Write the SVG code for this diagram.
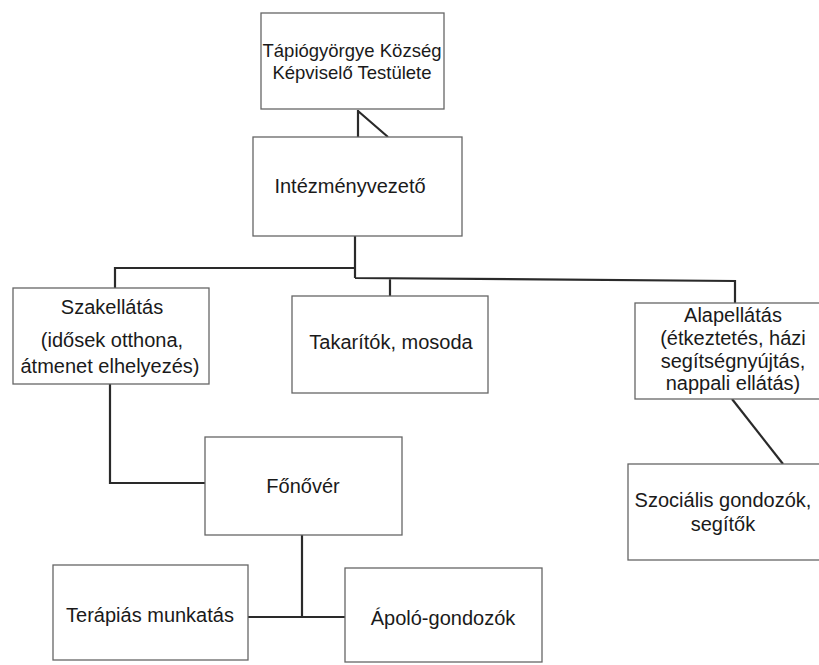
<svg xmlns="http://www.w3.org/2000/svg" width="819" height="665" viewBox="0 0 819 665">
<style>
.box{fill:#fff;stroke:#666;stroke-width:1.3}
.t{font-family:"Liberation Sans",Arial,sans-serif;font-size:20px;fill:#1a1a1a;text-anchor:middle}
.c{fill:none;stroke:#2a2a2a;stroke-width:2.2;stroke-linejoin:miter}
</style>
<rect width="819" height="665" fill="#fff"/>
<g id="connectors">
<path class="c" d="M358,110 V137 M358,111 L388,137"/>
<path class="c" d="M355,236 V278 M115,288 V268 H355 M355,278 L735,281 V303 M390,279 V296"/>
<path class="c" d="M110,384 V483 H205"/>
<path class="c" d="M302,535 V617 M248,617 H345"/>
<path class="c" d="M732,399 L783,464"/>
</g>
<g id="node-testulet">
<rect class="box" x="261" y="13" width="183" height="96"/>
<text class="t" x="352" y="57" style="font-size:18.5px">Tápiógyörgye Község</text>
<text class="t" x="352" y="79" style="font-size:18.5px">Képviselő Testülete</text>
</g>
<g id="node-intezmenyvezeto">
<rect class="box" x="253" y="137" width="209" height="99"/>
<text class="t" x="350" y="193">Intézményvezető</text>
</g>
<g id="node-szakellatas">
<rect class="box" x="13" y="288" width="196" height="96"/>
<text class="t" x="112" y="314">Szakellátás</text>
<text class="t" x="112" y="347">(idősek otthona,</text>
<text class="t" x="110" y="373">átmenet elhelyezés)</text>
</g>
<g id="node-takaritok">
<rect class="box" x="292" y="296" width="196" height="97"/>
<text class="t" x="391" y="349">Takarítók, mosoda</text>
</g>
<g id="node-alapellatas">
<rect class="box" x="635" y="303" width="190" height="96"/>
<text class="t" x="733" y="322">Alapellátás</text>
<text class="t" x="733" y="345">(étkeztetés, házi</text>
<text class="t" x="733" y="368">segítségnyújtás,</text>
<text class="t" x="733" y="390">nappali ellátás)</text>
</g>
<g id="node-fonover">
<rect class="box" x="205" y="437" width="197" height="98"/>
<text class="t" x="303" y="493">Főnővér</text>
</g>
<g id="node-szocialis">
<rect class="box" x="628" y="464" width="197" height="96"/>
<text class="t" x="723" y="507">Szociális gondozók,</text>
<text class="t" x="723" y="531">segítők</text>
</g>
<g id="node-terapias">
<rect class="box" x="53" y="565" width="195" height="95"/>
<text class="t" x="150" y="622">Terápiás munkatás</text>
</g>
<g id="node-apolo">
<rect class="box" x="345" y="568" width="197" height="94"/>
<text class="t" x="443" y="625">Ápoló-gondozók</text>
</g>
</svg>
